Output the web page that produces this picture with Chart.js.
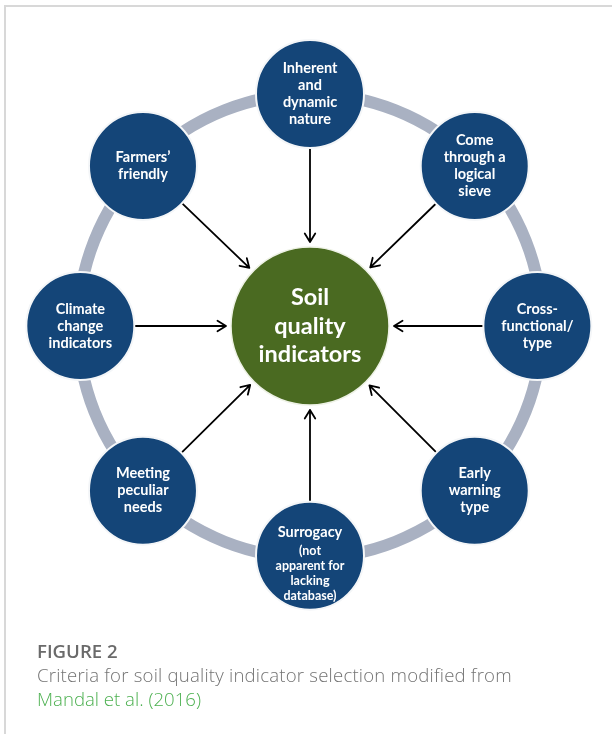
<!DOCTYPE html>
<html>
<head>
<meta charset="utf-8">
<script src="https://cdn.jsdelivr.net/npm/chart.js@4/dist/chart.umd.min.js"></script>
<style>
  body { margin: 0; background: #fff; }
  #page { position: relative; width: 612px; height: 734px; overflow: hidden; background: #fff; }
  #frame { position: absolute; left: 4px; top: 5px; width: 620px; height: 740px;
           border-top: 2px solid #d8d8d8; border-left: 2px solid #d8d8d8; }
  #diagram { position: absolute; left: 0; top: 0; }
  .cap { position: absolute; left: 37px; font-family: "Open Sans", sans-serif; font-size: 18.6px;
         line-height: 24px; white-space: nowrap; }
  #figno { top: 639px; color: #6a6a6a; font-weight: 600; }
  #captxt { top: 663px; color: #737373; font-weight: 300; letter-spacing: 0.2px; }
  #capref { top: 687px; color: #4cb050; font-weight: 300; }
</style>
</head>
<body>
<div id="page">
  <div id="frame"></div>
  <canvas id="diagram" width="612" height="640"></canvas>
  <div class="cap" id="figno">FIGURE 2</div>
  <div class="cap" id="captxt">Criteria for soil quality indicator selection modified from</div>
  <div class="cap" id="capref">Mandal et al. (2016)</div>
</div>
<script>
// criteria around the ring, clockwise from the top
const nodeLabels = [
  ["Inherent", "and", "dynamic", "nature"],
  ["Come", "through a", "logical", "sieve"],
  ["Cross-", "functional/", "type"],
  ["Early", "warning", "type"],
  ["Surrogacy"],
  ["Meeting", "peculiar", "needs"],
  ["Climate", "change", "indicators"],
  ["Farmers\u2019", "friendly"]
];
const nodeNotes = [[], [], [], [], ["(not", "apparent for", "lacking", "database)"], [], [], []];
// positions in ring radii
const nodeX = [0, 0.71, 0.98, 0.71, 0, -0.72, -0.99, -0.72];
const nodeY = [1.0, 0.69, 0, -0.71, -0.99, -0.71, 0, 0.69];
const centerLabel = ["Soil", "quality", "indicators"];

const ringRadius = 1;
const unitPx = 232;       // pixels per ring radius
const originPx = { x: 310, y: 326 };
const W = 612, H = 640;

const navy = "#144578";
const green = "#4a6a21";
const ringGrey = "#a9b1c2";
const outerR = 54;
const centerR = 79;

const ctx = document.getElementById("diagram").getContext("2d");

function px(chart, x, y) {
  return {
    x: chart.scales.x.getPixelForValue(x),
    y: chart.scales.y.getPixelForValue(y),
  };
}

function drawArrow(c, x1, y1, x2, y2) {
  const a = Math.atan2(y2 - y1, x2 - x1);
  const head = 10, spread = 0.55;
  c.beginPath();
  c.moveTo(x1, y1);
  c.lineTo(x2, y2);
  c.moveTo(x2 - head * Math.cos(a - spread), y2 - head * Math.sin(a - spread));
  c.lineTo(x2, y2);
  c.lineTo(x2 - head * Math.cos(a + spread), y2 - head * Math.sin(a + spread));
  c.stroke();
}

const backdrop = {
  id: "backdrop",
  beforeDatasetsDraw(chart) {
    const c = chart.ctx;
    const o = px(chart, 0, 0);
    const r = px(chart, ringRadius, 0).x - o.x;
    c.save();
    // grey ring
    c.strokeStyle = ringGrey;
    c.lineWidth = 12;
    c.beginPath();
    c.arc(o.x, o.y, r, 0, Math.PI * 2);
    c.stroke();
    // arrows from each criterion to the centre
    c.strokeStyle = "#000";
    c.lineWidth = 1.8;
    c.lineCap = "round";
    c.lineJoin = "round";
    nodeX.forEach((nx, i) => {
      const p = px(chart, nx, nodeY[i]);
      const dx = o.x - p.x, dy = o.y - p.y;
      const d = Math.hypot(dx, dy);
      const ux = dx / d, uy = dy / d;
      drawArrow(c, p.x + ux * (outerR + 1), p.y + uy * (outerR + 1),
                o.x - ux * (centerR + 5), o.y - uy * (centerR + 5));
    });
    c.restore();
  },
  afterDatasetsDraw(chart) {
    const c = chart.ctx;
    c.save();
    c.fillStyle = "#fff";
    c.textAlign = "center";
    c.textBaseline = "middle";
    nodeX.forEach((nx, i) => {
      const p = px(chart, nx, nodeY[i]);
      const main = nodeLabels[i], notes = nodeNotes[i];
      let y;
      if (notes.length) {
        y = p.y - 23;
      } else {
        y = p.y - (main.length - 1) * 17 / 2;
      }
      c.font = "bold 14.5px Lato";
      main.forEach((t) => { c.fillText(t, p.x, y); y += 17; });
      y += 1;
      c.font = "bold 12.5px Lato";
      notes.forEach((t) => { c.fillText(t, p.x, y); y += 15; });
    });
    const o = px(chart, 0, 0);
    c.font = "bold 23.5px Lato";
    centerLabel.forEach((t, k) => {
      c.fillText(t, o.x, o.y + (k - 1) * 28.5);
    });
    c.restore();
  },
};

new Chart(ctx, {
  type: "scatter",
  data: {
    datasets: [
      {
        data: nodeX.map((x, i) => ({ x: x, y: nodeY[i] })),
        pointRadius: outerR,
        pointHoverRadius: outerR,
        backgroundColor: navy,
        borderColor: "#f4f6f8",
        borderWidth: 2,
        clip: false,
      },
      {
        data: [{ x: 0, y: 0 }],
        pointRadius: centerR,
        pointHoverRadius: centerR,
        backgroundColor: green,
        borderColor: "#eef2e6",
        borderWidth: 1.5,
        clip: false,
      },
    ],
  },
  options: {
    responsive: false,
    animation: false,
    events: [],
    layout: { padding: 0, autoPadding: false },
    scales: {
      x: { display: false, min: -originPx.x / unitPx, max: (W - originPx.x) / unitPx },
      y: { display: false, min: -(H - originPx.y) / unitPx, max: originPx.y / unitPx },
    },
    plugins: {
      legend: { display: false },
      tooltip: { enabled: false },
    },
  },
  plugins: [backdrop],
});
</script>
</body>
</html>
